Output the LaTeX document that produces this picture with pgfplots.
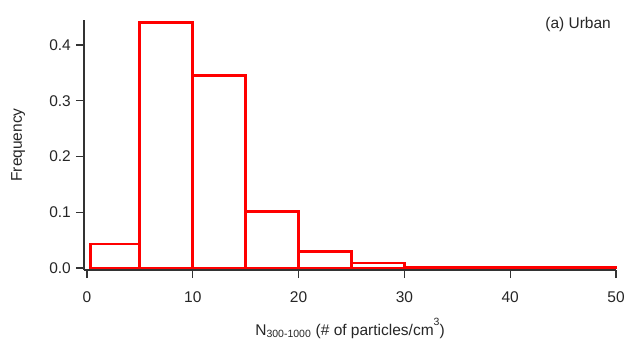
\documentclass[border=0pt]{standalone}
\usepackage{fontspec}
\setmainfont{Liberation Sans}
\usepackage{pgfplots}
\pgfplotsset{compat=1.18}
\definecolor{axgray}{HTML}{333333}
\begin{document}
\fontsize{15}{18}\selectfont
\begin{tikzpicture}
\useasboundingbox (-84pt,-71pt) rectangle (545pt,270pt);
\begin{axis}[
  at={(0,0)}, anchor=south west,
  scale only axis, width=532pt, height=250pt,
  xmin=-0.28, xmax=50, ymin=-0.0036, ymax=0.445,
  axis x line*=bottom, axis y line*=left,
  axis line style={axgray, line width=1.2pt},
  every tick/.style={axgray, line width=1.2pt},
  tick align=outside, major tick length=8pt,
  xtick={0,10,...,50}, ytick={0,0.1,...,0.4},
  minor tick num=0,
  /pgf/number format/assume math mode=true,
  yticklabel style={/pgf/number format/fixed, /pgf/number format/precision=1, /pgf/number format/fixed zerofill, text=black!85},
  xticklabel style={text=black!85, yshift=-8pt},
  scaled y ticks=false,
  tick label style={font=\fontsize{15.5}{18}\selectfont},
  label style={font=\fontsize{15.5}{18}\selectfont, text=black!85},
  xlabel={N\textsubscript{\fontsize{10.5}{12}\selectfont 300-1000} (\# of particles/cm\raisebox{1.2ex}{\fontsize{10.5}{12}\selectfont 3})},
  ylabel={Frequency},
  xlabel style={yshift=-6pt},
  ylabel style={yshift=14pt},
  clip=false,
]
\addplot[ybar interval, draw=red, fill=white, line width=2.8pt] coordinates {
(0.3,0.043) (5,0.44) (10,0.346) (15,0.102) (20,0.030) (25,0.009)
(30,0.0015) (35,0.001) (40,0.001) (45,0.0008) (50,0.0008)};
\node[anchor=north east, font=\fontsize{15.5}{18}\selectfont, text=black!85] at (axis cs:50,0.46) {(a) Urban};
\end{axis}
\end{tikzpicture}
\end{document}
